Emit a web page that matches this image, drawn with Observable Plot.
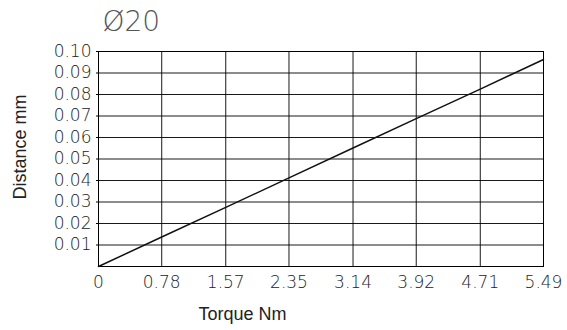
<!DOCTYPE html>
<html>
<head>
<meta charset="utf-8">
<script src="https://cdn.jsdelivr.net/npm/d3@7"></script>
<script src="https://cdn.jsdelivr.net/npm/@observablehq/plot@0.6"></script>
<style>
  html, body { margin: 0; padding: 0; background: #fff; }
  svg { display: block; }
</style>
</head>
<body>
<div id="chart"></div>
<script>
const title = "Ø20";
const xLabel = "Torque Nm";
const yLabel = "Distance mm";
const xTicks = [0, 0.78, 1.57, 2.35, 3.14, 3.92, 4.71, 5.49];
const yTicks = [0.01, 0.02, 0.03, 0.04, 0.05, 0.06, 0.07, 0.08, 0.09, 0.10];
const torque = [0, 0.78, 1.57, 2.35, 3.14, 3.92, 4.71, 5.49];
const distance = [0, 0.0137, 0.0275, 0.0412, 0.0551, 0.0688, 0.0825, 0.0963];

const data = torque.map((t, i) => ({torque: t, distance: distance[i]}));
const tickFont = "DejaVu Sans";

const plot = Plot.plot({
  width: 567,
  height: 330,
  marginLeft: 98,
  marginRight: 24,
  marginTop: 51,
  marginBottom: 64,
  style: {fontFamily: tickFont, background: "#fff", overflow: "visible"},
  x: {domain: [0, 5.49], ticks: xTicks, label: null},
  y: {domain: [0, 0.10], ticks: yTicks, label: null},
  marks: [
    Plot.gridX(xTicks, {stroke: "#000", strokeOpacity: 0.9, strokeWidth: 1}),
    Plot.gridY(yTicks, {stroke: "#000", strokeOpacity: 0.9, strokeWidth: 1}),
    Plot.frame({stroke: "#000", strokeWidth: 1}),
    Plot.axisX(xTicks, {
      tickSize: 0, tickPadding: 9,
      tickFormat: d => d === 0 ? "0" : d.toFixed(2),
      fontSize: 17, fontWeight: 200, fill: "#222", label: null,
      style: {letterSpacing: "0.6px"}
    }),
    Plot.axisY(yTicks, {
      tickSize: 2, tickPadding: 5,
      tickFormat: d => d.toFixed(2),
      fontSize: 17, fontWeight: 200, fill: "#222", label: null,
      style: {letterSpacing: "0.6px"}
    }),
    Plot.line(data, {x: "torque", y: "distance", stroke: "#111", strokeWidth: 1.5}),
    Plot.text([title], {
      frameAnchor: "top-left", dx: 4, dy: -40, text: d => d,
      fontSize: 28, fontWeight: 200, fill: "#555", textAnchor: "start",
      fontFamily: tickFont, style: {letterSpacing: "1px"}
    }),
    Plot.text([xLabel], {
      frameAnchor: "bottom-left", dx: 144, dy: 53, text: d => d,
      fontSize: 18, fill: "#222", textAnchor: "middle",
      fontFamily: "Liberation Sans"
    }),
    Plot.text([yLabel], {
      frameAnchor: "left", dx: -78, dy: -12, text: d => d, rotate: -90,
      fontSize: 18, fill: "#222", textAnchor: "middle",
      fontFamily: "Liberation Sans"
    })
  ]
});
document.getElementById("chart").appendChild(plot);
</script>
</body>
</html>
